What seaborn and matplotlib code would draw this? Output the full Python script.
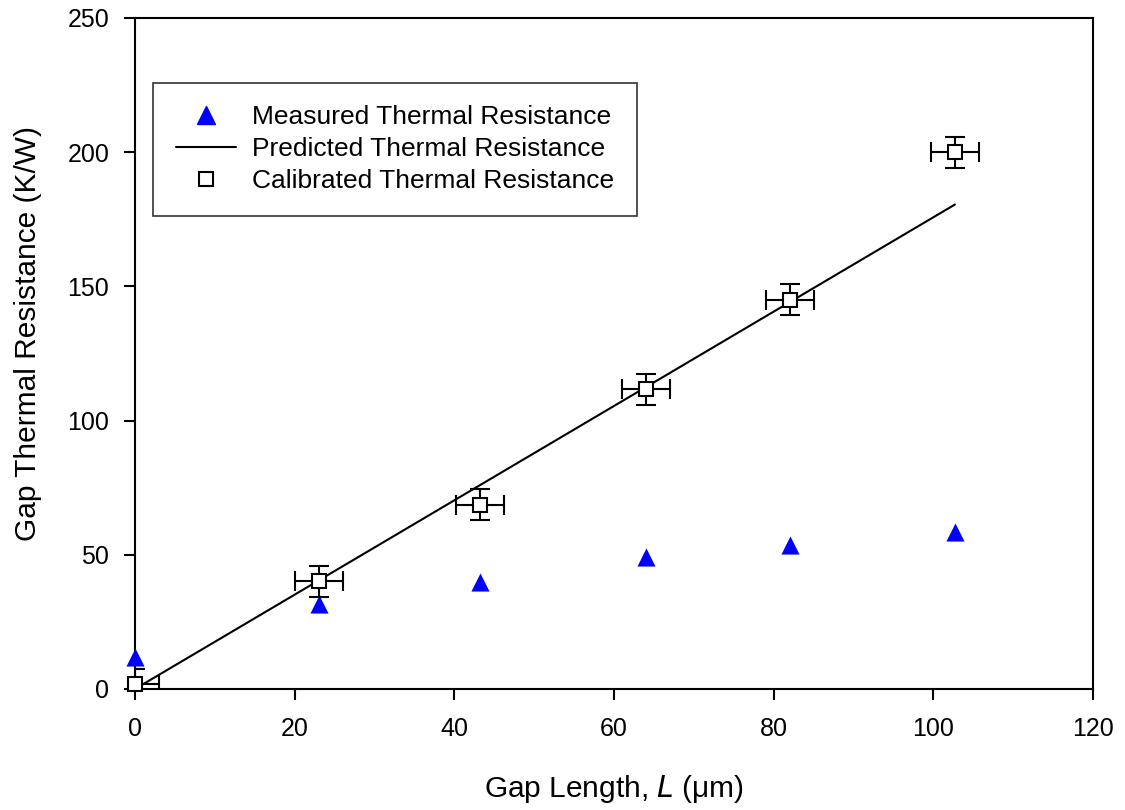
import pandas as pd
import matplotlib.pyplot as plt
from matplotlib.lines import Line2D
import seaborn as sns
import numpy as np

sns.set_style('ticks')
plt.rcParams['font.family'] = ['Liberation Sans', 'DejaVu Sans']
plt.rcParams['text.color'] = 'black'
plt.rcParams['axes.labelcolor'] = 'black'
plt.rcParams['xtick.color'] = 'black'
plt.rcParams['ytick.color'] = 'black'
plt.rcParams['axes.edgecolor'] = 'black'

# gap length (um)
gap = [0, 23, 43.2, 64, 82, 102.7]
measured = [12, 31.5, 40, 49, 53.5, 58.5]
calibrated = [1.8, 40.2, 68.6, 111.6, 145, 200]
x_err = [3, 3, 3, 3, 3, 3]
y_err = [5.8, 5.8, 5.8, 5.8, 5.8, 5.8]
pred_x = [0, 102.7]
pred_y = [0, 180.5]

df = pd.DataFrame({'gap': gap, 'measured': measured, 'calibrated': calibrated})
pred = pd.DataFrame({'gap': pred_x, 'pred': pred_y})

fig = plt.figure(figsize=(11.25, 8.1), dpi=100)
ax = fig.add_axes([0.12, 0.1494, 0.8516, 0.8284])

sns.scatterplot(data=df, x='gap', y='measured', marker='^', s=170, color='blue',
                edgecolor='blue', linewidth=0, ax=ax, legend=False,
                zorder=3, clip_on=False)
sns.lineplot(data=pred, x='gap', y='pred', color='black', linewidth=1.5, ax=ax,
             legend=False)
eb = ax.errorbar(df.gap, df.calibrated, xerr=x_err, yerr=y_err, fmt='s', ms=10.5,
                 mfc='white', mec='black', mew=1.5, ecolor='black', elinewidth=1.5,
                 capsize=7, capthick=1.5, zorder=4)
eb.lines[0].set_clip_on(False)

ax.set_xlim(0, 120)
ax.set_ylim(0, 250)
ax.set_xticks(np.arange(0, 121, 20))
ax.set_yticks(np.arange(0, 251, 50))
ax.tick_params(direction='out', length=8, width=1.5, labelsize=18, top=False, right=False)
ax.tick_params(axis='x', pad=12.5)
ax.tick_params(axis='y', pad=10.5)
for sp in ax.spines.values():
    sp.set_linewidth(1.5)
    sp.set_visible(True)
ax.set_xlabel(r'Gap Length, $\it{L}$ (μm)', fontsize=21.5, labelpad=23)
ax.set_ylabel('Gap Thermal Resistance (K/W)', fontsize=21.5, labelpad=18)
ax.yaxis.set_label_coords(-0.097, 0.53)

handles = [
    Line2D([], [], marker='^', color='blue', linestyle='none', markersize=13),
    Line2D([], [], color='black', linewidth=1.5),
    Line2D([], [], marker='s', mfc='white', mec='black', mew=1.5,
           linestyle='none', markersize=9.5),
]
labels = ['Measured Thermal Resistance', 'Predicted Thermal Resistance',
          'Calibrated Thermal Resistance']
leg = ax.legend(handles, labels, loc='upper left', bbox_to_anchor=(0.019, 0.903),
                borderaxespad=0, fontsize=19, frameon=True, fancybox=False,
                edgecolor='black', borderpad=0.85, handlelength=2.3,
                handletextpad=0.6, labelspacing=0.3)
leg.get_frame().set_linewidth(1.2)

fig.savefig('out.png', dpi=100)
